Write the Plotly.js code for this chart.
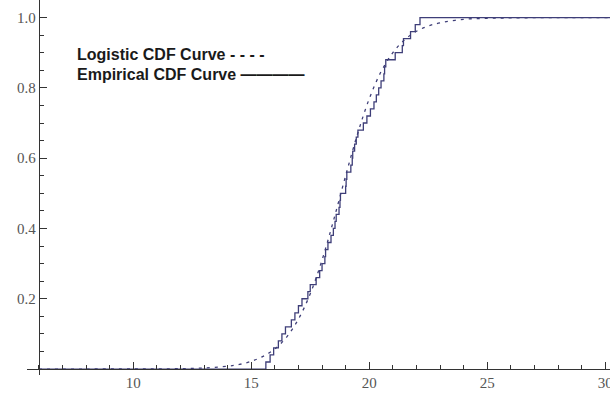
<!DOCTYPE html>
<html>
<head>
<meta charset="utf-8">
<script src="https://cdn.plot.ly/plotly-3.0.1.min.js"></script>
<style>html,body{margin:0;padding:0;background:#fff;}#chart{width:610px;height:394px;}</style>
</head>
<body>
<div id="chart"></div>
<script>
// Logistic CDF (dashed) values
var logisticX = [6, 8, 10, 11, 12, 13, 14, 14.5, 15, 15.5, 16, 16.5, 17, 17.5, 18, 18.5, 19, 19.5, 20, 20.5, 21, 21.5, 22, 22.5, 23, 24, 25, 26, 28, 30.2];
var logisticY = [0.000, 0.000, 0.0002, 0.0004, 0.001, 0.003, 0.008, 0.013, 0.022, 0.036, 0.057, 0.091, 0.142, 0.214, 0.310, 0.426, 0.550, 0.668, 0.769, 0.846, 0.900, 0.937, 0.961, 0.976, 0.985, 0.995, 0.998, 0.999, 1.000, 1.000];

// Empirical CDF (step) jump positions and levels
var ecdfX = [6, 15.62, 15.80, 15.95, 16.15, 16.30, 16.45, 16.70, 16.85, 17.00, 17.15, 17.40, 17.50, 17.75, 17.90, 18.00, 18.12, 18.15, 18.25, 18.38, 18.48, 18.55, 18.60, 18.72, 18.76, 18.78, 19.00, 19.02, 19.05, 19.22, 19.28, 19.30, 19.38, 19.45, 19.52, 19.75, 19.90, 20.05, 20.20, 20.30, 20.40, 20.50, 20.62, 20.65, 20.70, 21.10, 21.40, 21.45, 21.75, 21.95, 22.15, 30.2];
var ecdfY = [0, 0.02, 0.04, 0.06, 0.08, 0.10, 0.12, 0.14, 0.16, 0.18, 0.20, 0.22, 0.24, 0.26, 0.28, 0.30, 0.32, 0.34, 0.36, 0.38, 0.40, 0.42, 0.44, 0.46, 0.48, 0.50, 0.52, 0.54, 0.56, 0.58, 0.60, 0.62, 0.64, 0.66, 0.68, 0.70, 0.72, 0.74, 0.76, 0.78, 0.80, 0.82, 0.84, 0.86, 0.88, 0.90, 0.92, 0.94, 0.96, 0.98, 1.00, 1.00];

// Tick labels
var yTickVals = [0.2, 0.4, 0.6, 0.8, 1.0];
var yTickText = ["0.2", "0.4", "0.6", "0.8", "1.0"];
var xTickVals = [10, 15, 20, 25, 30];
var xTickText = ["10", "15", "20", "25", "30"];

var legendLines = ["Logistic CDF Curve - - - -", "Empirical CDF Curve \u2014\u2014\u2014\u2014"];

var lineColor = "rgb(62,62,120)";
var axisColor = "#333333";
var tickFont = {family: "Liberation Serif, Times New Roman, serif", size: 15, color: "#555555"};

var traces = [
  {x: logisticX, y: logisticY, type: "scatter", mode: "lines",
   line: {color: lineColor, width: 1.3, dash: "3px,5px", shape: "spline", smoothing: 1}, hoverinfo: "skip"},
  {x: ecdfX, y: ecdfY, type: "scatter", mode: "lines",
   line: {color: lineColor, width: 1.3, shape: "hv"}, hoverinfo: "skip"}
];

var layout = {
  width: 610, height: 394,
  margin: {l: 27, r: 0, t: 0, b: 19, pad: 0},
  paper_bgcolor: "#ffffff", plot_bgcolor: "#ffffff",
  showlegend: false,
  xaxis: {
    range: [5.5, 30.2], anchor: "free", position: 0.0159,
    showgrid: false, zeroline: false, showline: true, linecolor: axisColor, linewidth: 1,
    tickmode: "array", tickvals: xTickVals, ticktext: xTickText, ticklabeloverflow: "allow",
    ticks: "inside", ticklen: 7, tickwidth: 1, tickcolor: axisColor,
    minor: {dtick: 1, tick0: 0, ticks: "inside", ticklen: 4, tickwidth: 1, tickcolor: axisColor, showgrid: false},
    tickfont: tickFont
  },
  yaxis: {
    range: [-0.017, 1.05], anchor: "free", position: 0.0202,
    showgrid: false, zeroline: false, showline: true, linecolor: axisColor, linewidth: 1,
    tickmode: "array", tickvals: yTickVals, ticktext: yTickText, ticklabeloverflow: "allow",
    ticks: "inside", ticklen: 7, tickwidth: 1, tickcolor: axisColor,
    minor: {dtick: 0.05, tick0: 0, ticks: "inside", ticklen: 4, tickwidth: 1, tickcolor: axisColor, showgrid: false},
    tickfont: tickFont
  },
  annotations: [
    {text: "<b>" + legendLines[0] + "</b>", xref: "paper", yref: "paper", x: 0.082, y: 0.856,
     xanchor: "left", yanchor: "middle", showarrow: false,
     font: {family: "Liberation Sans, Arial, sans-serif", size: 16, color: "#1a1a1a"}},
    {text: "<b>" + legendLines[1] + "</b>", xref: "paper", yref: "paper", x: 0.082, y: 0.800,
     xanchor: "left", yanchor: "middle", showarrow: false,
     font: {family: "Liberation Sans, Arial, sans-serif", size: 16, color: "#1a1a1a"}}
  ]
};

Plotly.newPlot("chart", traces, layout, {staticPlot: true, displayModeBar: false});
</script>
</body>
</html>
